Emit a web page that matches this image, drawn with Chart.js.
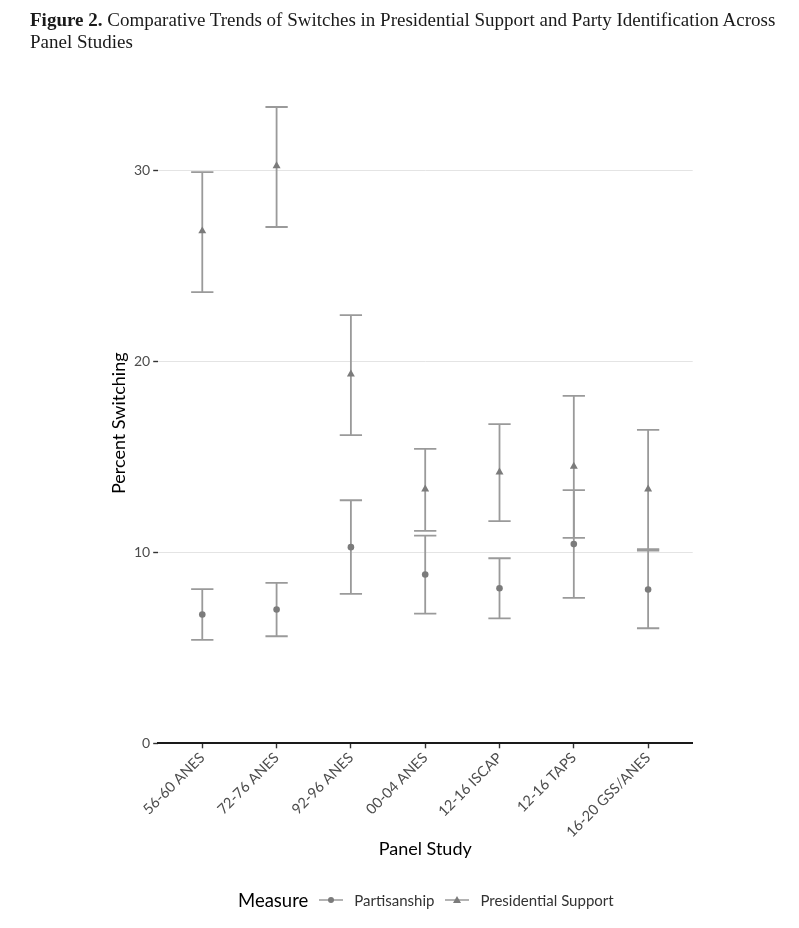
<!DOCTYPE html>
<html>
<head>
<meta charset="utf-8">
<script src="https://cdn.jsdelivr.net/npm/chart.js@4.4.0/dist/chart.umd.min.js"></script>
<style>
  html, body { margin: 0; padding: 0; background: #fff; }
  #wrap { position: relative; width: 799px; height: 928px; overflow: hidden; }
  #chart { position: absolute; left: 0; top: 0; }
  #title {
    position: absolute; left: 30px; top: 9px; width: 760px;
    font-family: "Liberation Serif", "DejaVu Serif", serif;
    font-size: 19px; line-height: 22px; color: #1a1a1a;
  }
  #legend {
    position: absolute; left: 238px; top: 889px;
    display: flex; align-items: center;
    font-family: Lato, sans-serif; color: #333;
  }
  #legend .ttl { font-size: 18.5px; color: #000; margin-right: 11px; }
  #legend svg { margin-right: 11px; }
  #legend .lbl { font-size: 15px; margin-right: 11px; }
</style>
</head>
<body>
<div id="wrap">
  <canvas id="chart" width="799" height="928"></canvas>
  <div id="title"><b>Figure 2.</b> Comparative Trends of Switches in Presidential Support and Party Identification Across Panel Studies</div>
  <div id="legend">
    <span class="ttl">Measure</span>
    <svg width="24" height="12"><line x1="0" y1="6" x2="24" y2="6" stroke="#9a9a9a" stroke-width="1.5"/><circle cx="12" cy="6" r="3" fill="#7b7b7b"/></svg>
    <span class="lbl">Partisanship</span>
    <svg width="24" height="12"><line x1="0" y1="6" x2="24" y2="6" stroke="#9a9a9a" stroke-width="1.5"/><polygon points="12,2 16,9 8,9" fill="#7b7b7b"/></svg>
    <span class="lbl">Presidential Support</span>
  </div>
</div>
<script>
// panel studies on the x axis
const studies = ["56-60 ANES", "72-76 ANES", "92-96 ANES", "00-04 ANES", "12-16 ISCAP", "12-16 TAPS", "16-20 GSS/ANES"];

// partisanship switching (%), with interval ends
const partMean = [6.75, 7.01, 10.28, 8.85, 8.13, 10.44, 8.06];
const partLow  = [5.42, 5.61, 7.83, 6.80, 6.55, 7.62, 6.03];
const partHigh = [8.08, 8.41, 12.74, 10.89, 9.70, 13.27, 10.18];

// presidential support switching (%), with interval ends
const presMean = [26.85, 30.26, 19.35, 13.32, 14.21, 14.51, 13.32];
const presLow  = [23.65, 27.06, 16.15, 11.13, 11.64, 10.77, 10.10];
const presHigh = [29.94, 33.35, 22.44, 15.43, 16.73, 18.21, 16.43];

const yTicks = [0, 10, 20, 30];

const capHalf = 0.15;   // half of the cap width, in category units
const markColor = '#7b7b7b';
const barColor = '#9a9a9a';

Chart.defaults.font.family = 'Lato, sans-serif';

const toPoints = vals => vals.map((v, i) => ({ x: i + 1, y: v }));

// draws the interval bars under the points
const errorBars = {
  id: 'errorBars',
  beforeDatasetsDraw(chart) {
    const { ctx, scales: { x, y } } = chart;
    ctx.save();
    ctx.strokeStyle = barColor;
    ctx.lineWidth = 1.8;
    chart.data.datasets.forEach(ds => {
      ds.low.forEach((lo, i) => {
        const px = x.getPixelForValue(i + 1);
        const half = x.getPixelForValue(i + 1 + capHalf) - px;
        const yl = y.getPixelForValue(lo);
        const yh = y.getPixelForValue(ds.high[i]);
        ctx.beginPath();
        ctx.moveTo(px, yl); ctx.lineTo(px, yh);
        ctx.moveTo(px - half, yl); ctx.lineTo(px + half, yl);
        ctx.moveTo(px - half, yh); ctx.lineTo(px + half, yh);
        ctx.stroke();
      });
    });
    ctx.restore();
  }
};

new Chart(document.getElementById('chart'), {
  type: 'scatter',
  data: {
    datasets: [
      {
        label: 'Partisanship',
        data: toPoints(partMean),
        low: partLow, high: partHigh,
        pointStyle: 'circle', pointRadius: 3.3,
        backgroundColor: markColor, borderColor: markColor, borderWidth: 0
      },
      {
        label: 'Presidential Support',
        data: toPoints(presMean),
        low: presLow, high: presHigh,
        pointStyle: 'triangle', pointRadius: 4.6,
        backgroundColor: markColor, borderColor: markColor, borderWidth: 0
      }
    ]
  },
  options: {
    responsive: false,
    animation: false,
    layout: { padding: { left: 104, right: 106.3, top: 103.2, bottom: 63.7 } },
    plugins: { legend: { display: false }, tooltip: { enabled: false } },
    scales: {
      x: {
        type: 'linear', min: 0.4, max: 7.6,
        afterBuildTicks: s => { s.ticks = studies.map((_, i) => ({ value: i + 1 })); },
        afterFit: s => { s.height = 121; },
        ticks: {
          callback: (v, i) => studies[i],
          autoSkip: false, minRotation: 45, maxRotation: 45,
          font: { size: 14.5 }, color: '#4d4d4d', padding: 1
        },
        grid: { drawOnChartArea: false, tickLength: 5, tickColor: '#333', tickWidth: 1.4 },
        border: { color: '#1a1a1a', width: 2 },
        title: { display: true, text: 'Panel Study', font: { size: 18 }, color: '#000', padding: { top: 4, bottom: 4 } }
      },
      y: {
        type: 'linear', min: 0, max: 33.55,
        afterBuildTicks: s => { s.ticks = yTicks.map(v => ({ value: v })); },
        afterFit: s => { s.width = 157.7 - 104; },
        ticks: { font: { size: 14 }, color: '#4d4d4d', padding: 3 },
        grid: {
          color: c => (c.tick && c.tick.value === 0) ? 'rgba(0,0,0,0)' : '#e4e4e4',
          lineWidth: 1, tickLength: 4.5, tickColor: '#333', tickWidth: 1.4
        },
        border: { display: false },
        title: { display: true, text: 'Percent Switching', font: { size: 18 }, color: '#000', padding: { top: 4, bottom: 4 } }
      }
    }
  },
  plugins: [errorBars]
});
</script>
</body>
</html>
